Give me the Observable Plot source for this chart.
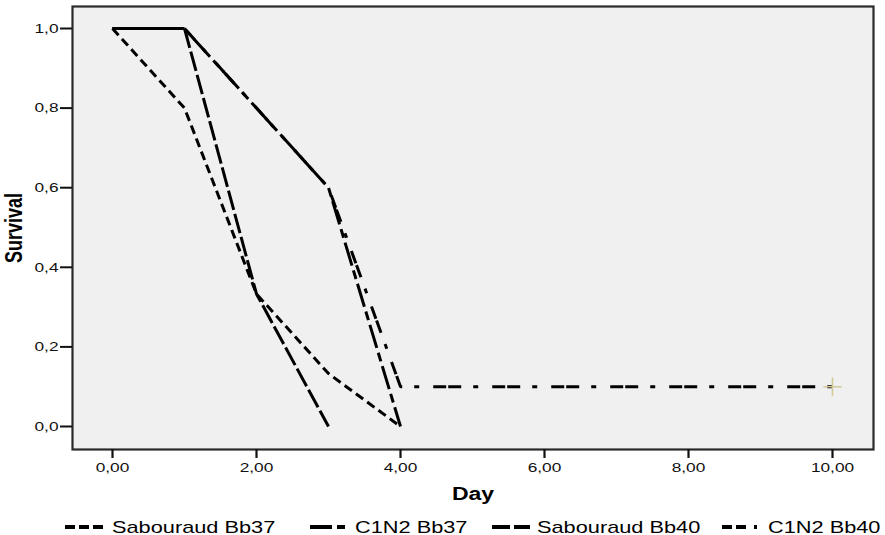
<!DOCTYPE html>
<html><head><meta charset="utf-8">
<script src="https://cdn.jsdelivr.net/npm/d3@7"></script>
<script src="https://cdn.jsdelivr.net/npm/@observablehq/plot@0.6"></script>
<style>
body{margin:0;background:#fff;font-family:"Liberation Sans",Arial,sans-serif;}
#wrap{position:relative;width:885px;height:535px;}
#chart, #legend{display:block;line-height:0;}
</style></head>
<body><div id="wrap"><div id="chart"></div><div id="legend"></div></div>
<script>
const seriesNames = ["Sabouraud Bb37", "C1N2 Bb37", "Sabouraud Bb40", "C1N2 Bb40"];
const sabBb37Day = [0, 1, 2, 3, 4];
const sabBb37Surv = [1.0, 0.8, 0.333, 0.133, 0.0];
const c1n2Bb37Day = [0, 1, 3, 4];
const c1n2Bb37Surv = [1.0, 1.0, 0.6, 0.0];
const sabBb40Day = [0, 1, 2, 3];
const sabBb40Surv = [1.0, 1.0, 0.333, 0.0];
const c1n2Bb40Day = [0, 1, 3, 4, 10];
const c1n2Bb40Surv = [1.0, 1.0, 0.6, 0.1, 0.1];
const censorDay = [10];
const censorSurv = [0.1];
const xTicks = [0, 2, 4, 6, 8, 10];
const yTicks = [0, 0.2, 0.4, 0.6, 0.8, 1.0];

const lineDashes = ["9,5", "24,5,9,5", "20,4", "13,2,13,12,5,14"];
const swatchDashes = ["10,4", "22,5,8,5", "18,4", "10,4,10,8,3,8"];
const mk = (days, survs) => days.map((d, i) => ({day: d, surv: survs[i]}));
const series = [
  mk(sabBb37Day, sabBb37Surv),
  mk(c1n2Bb37Day, c1n2Bb37Surv),
  mk(sabBb40Day, sabBb40Surv),
  mk(c1n2Bb40Day, c1n2Bb40Surv)
];
const censor = mk(censorDay, censorSurv);
const fmt = (d, n) => d.toFixed(n).replace(".", ",");
const STRETCH = 1.28;

const chart = Plot.plot({
  width: 885, height: 505,
  marginLeft: 72, marginRight: 12, marginTop: 6, marginBottom: 56,
  style: {fontFamily: "Liberation Sans, Arial, sans-serif", fontSize: "13.5px", background: "white"},
  x: {domain: [-40/72, 10 + 41/72], label: null},
  y: {domain: [-23/398, 1 + 22/398], label: null},
  marks: [
    Plot.frame({fill: "#f0f0f0", stroke: null}),
    ...series.map((s, i) => Plot.line(s, {x: "day", y: "surv", stroke: "black", strokeWidth: 3, strokeDasharray: lineDashes[i], strokeLinecap: "butt", strokeLinejoin: "miter"})),
    Plot.dot(censor, {x: "day", y: "surv", symbol: "plus", r: 6, stroke: "#d2ca98", strokeWidth: 1.6}),
    Plot.frame({stroke: "#2a2a2a", strokeWidth: 2.2}),
    Plot.axisX({ticks: xTicks, tickFormat: d => fmt(d, 2), tickSize: 9, tickPadding: 4, strokeWidth: 2.2, fontSize: 13.5, color: "#111", label: null}),
    Plot.axisY({ticks: yTicks, tickFormat: d => fmt(d, 1), tickSize: 12, tickPadding: 2, strokeWidth: 2, fontSize: 13.5, color: "#111", label: null}),
    Plot.text(["Day"], {frameAnchor: "bottom", dy: 50, textAnchor: "middle", fontWeight: "bold", fontSize: 18, fill: "black"}),
    Plot.text(["Survival"], {frameAnchor: "left", dx: -58, rotate: -90, textAnchor: "middle", fontWeight: "bold", fontSize: 18, fill: "black"})
  ]
});
// the reference's text is horizontally stretched; widen every label about its anchor
chart.querySelectorAll("text").forEach(t => {
  let tr = t.getAttribute("transform");
  if (!tr) {
    const x = t.getAttribute("x") || 0, y = t.getAttribute("y") || 0;
    tr = `translate(${x},${y})`;
    t.removeAttribute("x"); t.removeAttribute("y");
  }
  t.setAttribute("transform", tr + (tr.includes("rotate") ? ` scale(1,${STRETCH})` : ` scale(${STRETCH},1)`));
});
document.getElementById("chart").appendChild(chart);

// legend below the chart
const swatchX = [65, 310, 492, 722];
const textX = [112, 355, 537, 768];
const leg = d3.create("svg").attr("width", 885).attr("height", 30)
  .attr("font-family", "Liberation Sans, Arial, sans-serif").attr("font-size", 17);
seriesNames.forEach((name, i) => {
  leg.append("line").attr("x1", swatchX[i]).attr("x2", swatchX[i] + 38).attr("y1", 22).attr("y2", 22)
    .attr("stroke", "black").attr("stroke-width", 4).attr("stroke-dasharray", swatchDashes[i]);
  leg.append("text").attr("transform", `translate(${textX[i]},28) scale(${STRETCH},1)`)
    .attr("fill", "black").text(name);
});
document.getElementById("legend").appendChild(leg.node());
</script></body></html>
